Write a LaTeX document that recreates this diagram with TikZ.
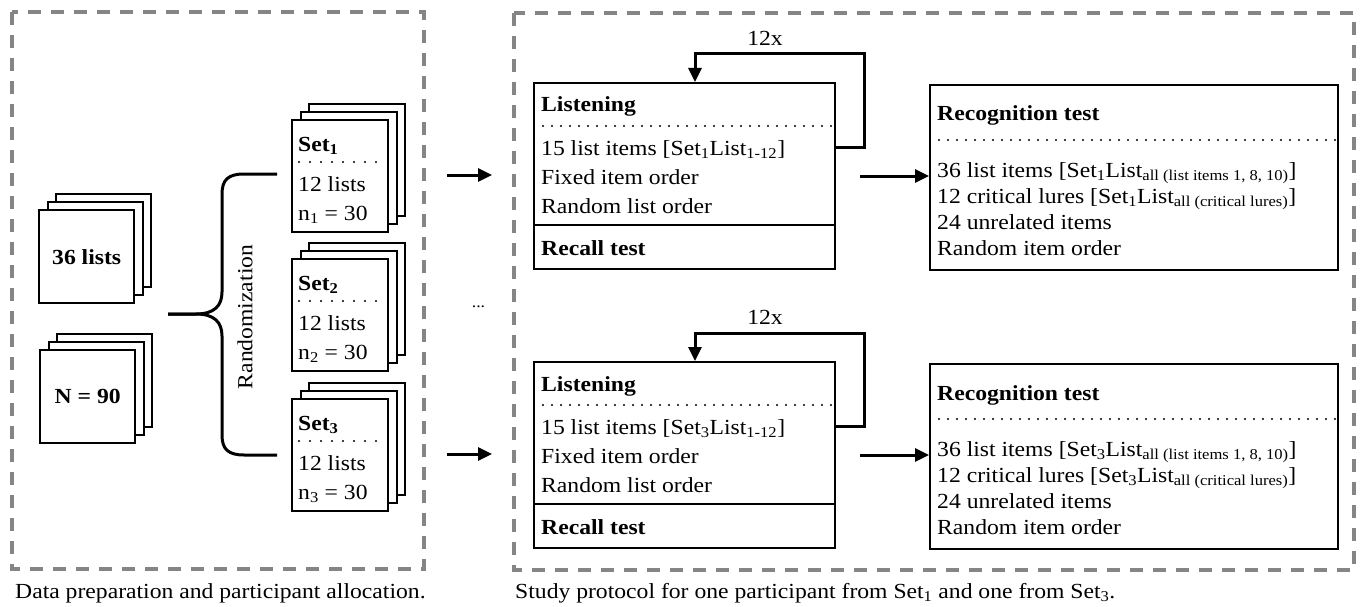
\documentclass[tikz,border=0pt]{standalone}
\usepackage{fontspec}
\setmainfont{Liberation Serif}[FakeStretch=1.1]
\usetikzlibrary{arrows.meta,calc}
\definecolor{panelgray}{HTML}{858585}
\newcommand\bodyfont{\fontsize{21.5}{26}\selectfont}

\begin{document}
\begin{tikzpicture}[x=1pt,y=-1pt,
  panel/.style={draw=panelgray, line width=3.2pt, dash pattern=on 13pt off 10pt},
  sheet/.style={rectangle, draw=black, fill=white, line width=2.4pt, inner sep=0pt,
                anchor=north west, minimum width=#1},
  sheet/.default=96pt,
  framebox/.style={rectangle, draw=black, line width=2.4pt, inner sep=0pt, anchor=north west},
  rule/.style={line width=2.4pt},
  dotrule/.style={line width=2.2pt, dash pattern=on 0pt off 9pt, line cap=round},
  setdots/.style={line width=2.2pt, dash pattern=on 0pt off 11pt, line cap=round},
  flow/.style={line width=3pt, -{Triangle[length=14pt,width=13pt]}},
  brace/.style={line width=3pt},
  txt/.style={anchor=base west, inner sep=0pt, font=\bodyfont},
  lbl/.style={inner sep=0pt, font=\bodyfont}]

\useasboundingbox (0,0) rectangle (1362,607);

% ---------- left panel: preparation and allocation ----------
\draw[panel] (12,12) rectangle (424,569);

% stack of lists
\node[sheet=95pt, minimum height=93pt] (lists3) at (55,193) {};
\node[sheet=95pt, minimum height=93pt] (lists2) at (46.5,201) {};
\node[sheet=95pt, minimum height=93pt] (lists1) at (38,209) {};
\node[lbl, font=\bodyfont\bfseries] (listsT) at (lists1.center) {36 lists};

% stack of participants
\node[sheet=95pt, minimum height=93pt] (part3) at (56,333) {};
\node[sheet=95pt, minimum height=93pt] (part2) at (47.5,341) {};
\node[sheet=95pt, minimum height=93pt] (part1) at (39,349) {};
\node[lbl, font=\bodyfont\bfseries] (partT) at (part1.center) {N = 90};

% randomization brace
\coordinate (bt) at (168,314);
\coordinate (bu) at (277,174);
\coordinate (bd) at (277,455);
\draw[brace] (bt) -- (196,314) .. controls (214,314) and (222,306) .. (222,292)
  -- (222,194) .. controls (222,180) and (228,174) .. (244,174) -- (bu);
\draw[brace] (bt) -- (196,314) .. controls (214,314) and (222,322) .. (222,336)
  -- (222,435) .. controls (222,449) and (228,455) .. (244,455) -- (bd);
\node[lbl, rotate=90] (rand) at (245,317) {Randomization};

% the three sets
\foreach \i/\T in {1/119, 2/258, 3/398}{
  \node[sheet, minimum height=112pt] (set\i c) at (308,\T-16) {};
  \node[sheet, minimum height=112pt] (set\i b) at (299.5,\T-8) {};
  \node[sheet, minimum height=112pt] (set\i a) at (291,\T) {};
  \node[txt, font=\bodyfont\bfseries] (set\i h) at (298,\T+32) {Set\textsubscript{\i}};
  \draw[setdots] (299,\T+43) -- (382,\T+43);
  \node[txt] (set\i l) at (298,\T+72) {12 lists};
  \node[txt] (set\i n) at (298,\T+101) {n\textsubscript{\i} = 30};
}

% arrows into the protocol panel
\coordinate (a1s) at (447,175);
\coordinate (a1e) at (492,175);
\coordinate (a3s) at (447,454);
\coordinate (a3e) at (492,454);
\draw[flow] (a1s) -- (a1e);
\draw[flow] (a3s) -- (a3e);
\node[inner sep=0pt, font=\fontsize{16}{18}\selectfont] (ell) at (478.5,307) {...};

% ---------- right panel: study protocol ----------
\draw[panel] (514,13) rectangle (1354,570);

\foreach \s/\dy in {1/0, 3/279}{
  % listening phase with recall test
  \node[framebox, minimum width=301pt, minimum height=186pt] (L\s) at (533,82+\dy) {};
  \node[txt, font=\bodyfont\bfseries] (L\s h) at (541,112+\dy) {Listening};
  \draw[dotrule] (543,126+\dy) -- (834,126+\dy);
  \node[txt] (L\s a) at (541,155+\dy) {15 list items [Set\textsubscript{\s}List\textsubscript{1-12}]};
  \node[txt] (L\s b) at (541,184+\dy) {Fixed item order};
  \node[txt] (L\s c) at (541,213+\dy) {Random list order};
  \draw[rule] (L\s.west |- 0,225+\dy) -- (L\s.east |- 0,225+\dy);
  \node[txt, font=\bodyfont\bfseries] (L\s r) at (541,255+\dy) {Recall test};

  % repetition loop
  \coordinate (loop\s out) at (834,147+\dy);
  \coordinate (loop\s top) at (864,54+\dy);
  \coordinate (loop\s in) at (695,82+\dy);
  \draw[flow] (loop\s out) -| (loop\s top) -| (L\s.north -| loop\s in);
  \node[lbl] (rep\s) at (765,38+\dy) {12x};

  % recognition test
  \node[framebox, minimum width=408pt, minimum height=185pt] (R\s) at (929,84+\dy) {};
  \draw[flow] (860,176+\dy) -- (R\s.west |- 0,176+\dy);
  \node[txt, font=\bodyfont\bfseries] (R\s h) at (937,121+\dy) {Recognition test};
  \draw[dotrule] (939,140+\dy) -- (1337,140+\dy);
  \node[txt] (R\s a) at (937,177+\dy) {36 list items [Set\textsubscript{\s}List\textsubscript{all (list items 1, 8, 10)}]};
  \node[txt] (R\s b) at (937,203+\dy) {12 critical lures [Set\textsubscript{\s}List\textsubscript{all (critical lures)}]};
  \node[txt] (R\s c) at (937,229+\dy) {24 unrelated items};
  \node[txt] (R\s d) at (937,255+\dy) {Random item order};
}

% ---------- captions ----------
\node[txt] (capL) at (15,598) {Data preparation and participant allocation.};
\node[txt] (capR) at (515,598) {Study protocol for one participant from Set\textsubscript{1} and one from Set\textsubscript{3}.};

\end{tikzpicture}
\end{document}
